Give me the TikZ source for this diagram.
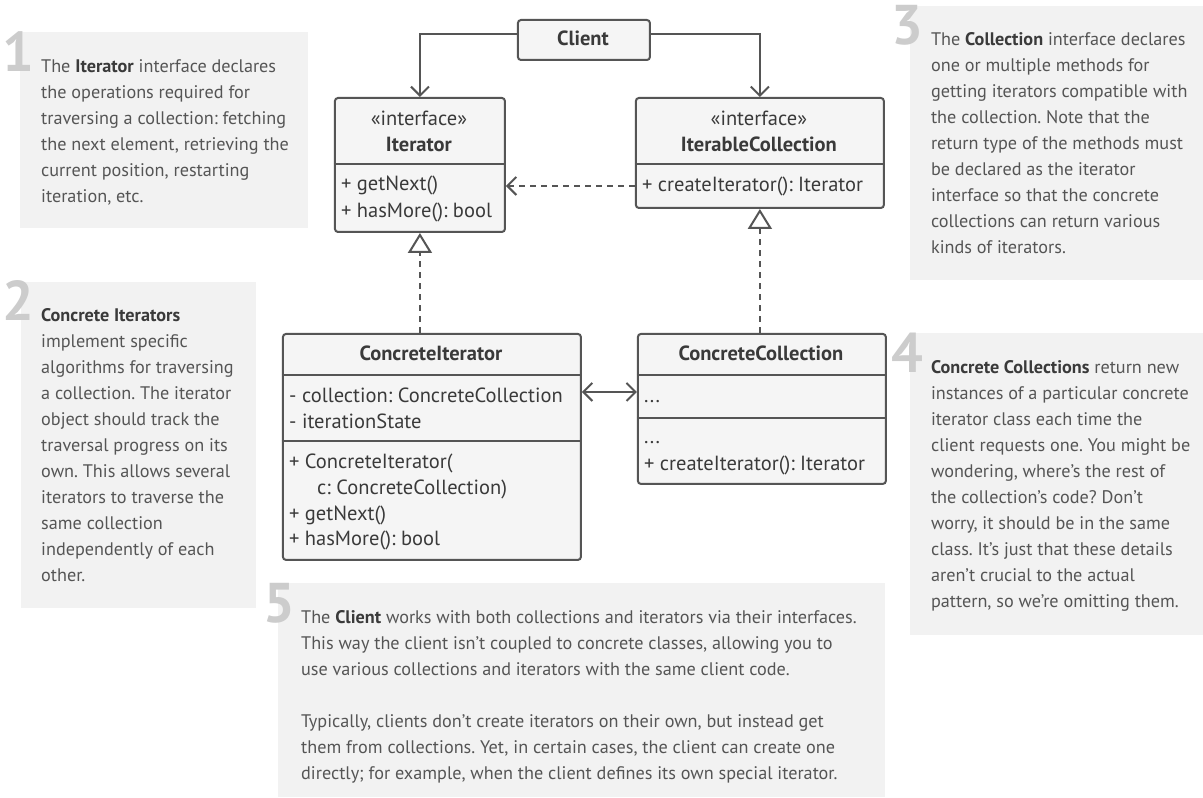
\documentclass[tikz,border=0pt]{standalone}
\usepackage{fontspec}
\setmainfont{PT Sans}
\usetikzlibrary{arrows.meta}
\definecolor{notebg}{HTML}{F2F2F2}
\definecolor{boxbg}{HTML}{F5F5F5}
\definecolor{linec}{HTML}{555555}
\definecolor{txt}{HTML}{555555}
\definecolor{dtxt}{HTML}{3A3A3A}
\definecolor{digitc}{HTML}{CCCCCC}
\newcommand\notebf[1]{\textbf{\color{dtxt}#1}}
\frenchspacing
\begin{document}
\begin{tikzpicture}[x=1pt,y=-1pt,
  notebox/.style={fill=notebg, draw=none, anchor=north west, inner sep=0pt},
  notetext/.style={anchor=north west, inner sep=0pt, align=left, text=txt, font=\fontsize{18.2}{26}\selectfont\frenchspacing},
  digit/.style={anchor=base east, inner sep=0pt, text=digitc, font=\fontsize{56}{56}\selectfont\bfseries},
  umlbox/.style={draw=linec, fill=boxbg, line width=2pt, rounded corners=3pt, anchor=north west, inner sep=0pt},
  divider/.style={draw=linec, line width=2pt},
  rowtext/.style={anchor=base west, inner sep=0pt, text=dtxt, font=\fontsize{20.5}{26}\selectfont},
  titletext/.style={anchor=base, inner sep=0pt, text=dtxt, font=\fontsize{20.5}{26}\selectfont\bfseries},
  stereo/.style={anchor=base, inner sep=0pt, text=dtxt, font=\fontsize{20.5}{26}\selectfont},
  conn/.style={draw=linec, line width=2pt},
  assoc/.style={conn, -{Straight Barb[length=9pt,width=18pt]}},
  dep/.style={conn, dash pattern=on 6pt off 5pt, -{Straight Barb[length=9pt,width=18pt]}},
  real/.style={conn, dash pattern=on 6pt off 5pt, -{Triangle[open,length=20pt,width=24pt]}},
  biassoc/.style={conn, {Straight Barb[length=9pt,width=18pt]}-{Straight Barb[length=9pt,width=18pt]}}
]
\fill[white] (0,0) rectangle (1203,798);

% ---------- notes ----------
\node[notebox, minimum width=288pt, minimum height=196pt] (n1) at (20,32) {};
\node[digit] (d1) at (34,72) {1};
\node[notetext] (t1) at (41,53.8) {\strut The \notebf{Iterator} interface declares\\
the operations required for\\
traversing a collection: fetching\\
the next element, retrieving the\\
current position, restarting\\
iteration, etc.};

\node[notebox, minimum width=235pt, minimum height=326pt] (n2) at (21,282) {};
\node[digit] (d2) at (34,321) {2};
\node[notetext] (t2) at (41,302.8) {\strut\notebf{Concrete Iterators}\\
implement specific\\
algorithms for traversing\\
a collection. The iterator\\
object should track the\\
traversal progress on its\\
own. This allows several\\
iterators to traverse the\\
same collection\\
independently of each\\
other.};

\node[notebox, minimum width=293pt, minimum height=274pt] (n3) at (910,6) {};
\node[digit] (d3) at (924,45) {3};
\node[notetext] (t3) at (931,26.8) {\strut The \notebf{Collection} interface declares\\
one or multiple methods for\\
getting iterators compatible with\\
the collection. Note that the\\
return type of the methods must\\
be declared as the iterator\\
interface so that the concrete\\
collections can return various\\
kinds of iterators.};

\node[notebox, minimum width=293pt, minimum height=302pt] (n4) at (910,333) {};
\node[digit] (d4) at (924,373) {4};
\node[notetext] (t4) at (931,354.8) {\strut\notebf{Concrete Collections} return new\\
instances of a particular concrete\\
iterator class each time the\\
client requests one. You might be\\
wondering, where’s the rest of\\
the collection’s code? Don’t\\
worry, it should be in the same\\
class. It’s just that these details\\
aren’t crucial to the actual\\
pattern, so we’re omitting them.};

\node[notebox, minimum width=607pt, minimum height=214pt] (n5) at (278,583) {};
\node[digit] (d5) at (295,623) {5};
\node[notetext] (t5) at (301,604.8) {\strut The \notebf{Client} works with both collections and iterators via their interfaces.\\
This way the client isn’t coupled to concrete classes, allowing you to\\
use various collections and iterators with the same client code.\\[26pt]
Typically, clients don’t create iterators on their own, but instead get\\
them from collections. Yet, in certain cases, the client can create one\\
directly; for example, when the client defines its own special iterator.};

% ---------- Client ----------
\node[umlbox, minimum width=132pt, minimum height=40pt] (client) at (517,19) {};
\node[titletext] (clientt) at (583,46) {Client};

% ---------- Iterator ----------
\node[umlbox, minimum width=170pt, minimum height=134pt] (iter) at (334,97) {};
\draw[divider] (334,164) -- (504,164);
\node[stereo] (iters) at (419,126) {«interface»};
\node[titletext] (itert) at (419,152) {Iterator};
\node[rowtext] (iterr1) at (341,191) {+ getNext()};
\node[rowtext] (iterr2) at (341,218) {+ hasMore(): bool};

% ---------- IterableCollection ----------
\node[umlbox, minimum width=248pt, minimum height=110pt] (icoll) at (635,97) {};
\draw[divider] (635,164) -- (883,164);
\node[stereo] (icolls) at (759,126) {«interface»};
\node[titletext] (icollt) at (759,152) {IterableCollection};
\node[rowtext] (icollr1) at (642,192) {+ createIterator(): Iterator};

% ---------- ConcreteIterator ----------
\node[umlbox, minimum width=298pt, minimum height=226pt] (citer) at (282,333) {};
\draw[divider] (282,375) -- (580,375);
\draw[divider] (282,441) -- (580,441);
\node[titletext] (citert) at (431,361) {ConcreteIterator};
\node[rowtext] (citerr1) at (289,403) {- collection: ConcreteCollection};
\node[rowtext] (citerr2) at (289,429) {- iterationState};
\node[rowtext] (citerr3) at (289,469) {+ ConcreteIterator(};
\node[rowtext] (citerr4) at (317,495) {c: ConcreteCollection)};
\node[rowtext] (citerr5) at (289,521) {+ getNext()};
\node[rowtext] (citerr6) at (289,546) {+ hasMore(): bool};

% ---------- ConcreteCollection ----------
\node[umlbox, minimum width=248pt, minimum height=150pt] (ccoll) at (637,333) {};
\draw[divider] (637,375) -- (885,375);
\draw[divider] (637,418) -- (885,418);
\node[titletext] (ccollt) at (761,361) {ConcreteCollection};
\node[rowtext] (ccollr1) at (644,403) {...};
\node[rowtext] (ccollr2) at (644,444) {...};
\node[rowtext] (ccollr3) at (644,471) {+ createIterator(): Iterator};

% ---------- connectors ----------
\draw[assoc] ([yshift=6pt]client.west) -| (iter.north);
\draw[assoc] ([yshift=6pt]client.east) -| (icoll.north);
\draw[dep] ([yshift=6pt]icoll.west |- icollr1.base) -- ([yshift=6pt]iter.east |- icollr1.base);
\draw[real] (citer.north -| iter.south) -- (iter.south);
\draw[real] (ccoll.north -| icoll.south) -- (icoll.south);
\coordinate (mid) at (608,392);
\draw[biassoc] (citer.east |- mid) -- (ccoll.west |- mid);
\end{tikzpicture}
\end{document}
